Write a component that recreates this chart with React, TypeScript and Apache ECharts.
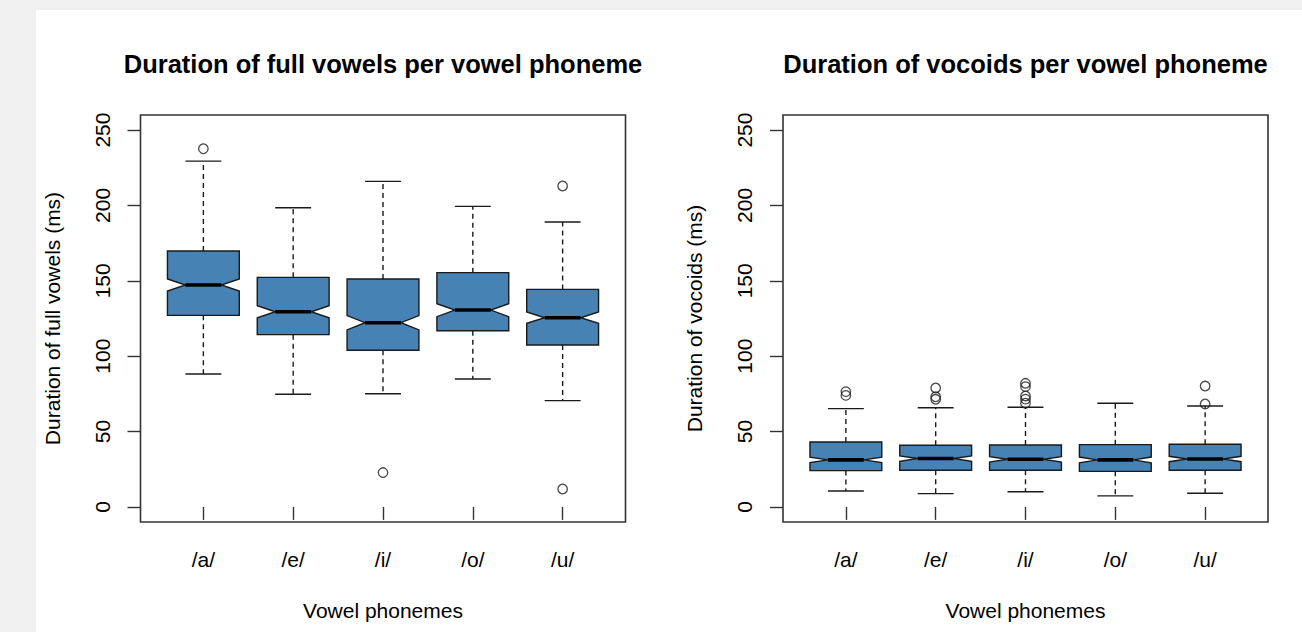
import React, { useEffect, useRef } from "react";
import * as echarts from "echarts";

const phonemes = ["/a/", "/e/", "/i/", "/o/", "/u/"];
const yTicks = [0, 50, 100, 150, 200, 250];

// Full vowels
const fullMin = [88.2, 74.7, 75.1, 84.9, 70.5];
const fullQ1 = [127.1, 114.3, 103.9, 116.9, 107.4];
const fullNotchLo = [143.2, 125.5, 117.4, 126.2, 121.8];
const fullMedian = [147.2, 129.5, 122.2, 130.6, 125.5];
const fullNotchHi = [151.2, 133.5, 126.9, 134.8, 129.3];
const fullQ3 = [169.8, 152.3, 151.2, 155.4, 144.3];
const fullMax = [229.4, 198.5, 216.0, 199.4, 189.0];
const fullOutliers = [[237.6], [], [22.8], [], [212.9, 11.9]];

// Vocoids
const vocMin = [10.6, 8.8, 10.1, 7.3, 9.1];
const vocQ1 = [24.1, 24.3, 24.3, 23.6, 24.3];
const vocNotchLo = [29.4, 30.3, 29.8, 29.3, 30.0];
const vocMedian = [31.2, 32.1, 31.6, 31.2, 31.8];
const vocNotchHi = [33.0, 33.9, 33.4, 33.1, 33.6];
const vocQ3 = [43.1, 40.9, 41.1, 41.3, 41.6];
const vocMax = [65.2, 65.8, 66.1, 68.8, 67.0];
const vocOutliers = [[76.5, 74.0], [78.9, 73.1, 71.4], [82.0, 79.8, 73.6, 71.5, 68.8], [], [80.2, 68.3]];

const FONT = '"Liberation Sans", Arial, Helvetica, sans-serif';
const FILL = "#4682B4";
const INK = "#1a1a1a";

function boxData(mn, q1, nlo, med, nhi, q3, mx) {
  return phonemes.map((_, i) => [i + 1, mn[i], q1[i], nlo[i], med[i], nhi[i], q3[i], mx[i]]);
}
function outlierData(outs) {
  const r = [];
  outs.forEach((list, i) => list.forEach((v) => r.push([i + 1, v])));
  return r;
}

function renderBox(params, api) {
  const x = api.value(0);
  const y = (v) => api.coord([x, v])[1];
  const cx = api.coord([x, api.value(4)])[0];
  const hw = api.size([0.8, 0])[0] / 2;
  const mn = y(api.value(1));
  const q1 = y(api.value(2));
  const nlo = y(api.value(3));
  const med = y(api.value(4));
  const nhi = y(api.value(5));
  const q3 = y(api.value(6));
  const mx = y(api.value(7));
  const dash = { stroke: INK, lineWidth: 1.4, lineDash: [5, 4] };
  const solid = { stroke: INK, lineWidth: 1.4 };
  return {
    type: "group",
    children: [
      { type: "line", shape: { x1: cx, y1: q3, x2: cx, y2: mx }, style: dash },
      { type: "line", shape: { x1: cx, y1: q1, x2: cx, y2: mn }, style: dash },
      { type: "line", shape: { x1: cx - hw / 2, y1: mx, x2: cx + hw / 2, y2: mx }, style: solid },
      { type: "line", shape: { x1: cx - hw / 2, y1: mn, x2: cx + hw / 2, y2: mn }, style: solid },
      {
        type: "polygon",
        shape: {
          points: [
            [cx - hw, q1], [cx - hw, nlo], [cx - hw / 2, med], [cx - hw, nhi], [cx - hw, q3],
            [cx + hw, q3], [cx + hw, nhi], [cx + hw / 2, med], [cx + hw, nlo], [cx + hw, q1],
          ],
        },
        style: { fill: FILL, stroke: INK, lineWidth: 1.4 },
      },
      { type: "line", shape: { x1: cx - hw / 2, y1: med, x2: cx + hw / 2, y2: med }, style: { stroke: "#000", lineWidth: 3.6 } },
    ],
  };
}

function xAxisFor(gridIndex) {
  return {
    gridIndex,
    type: "value",
    min: 0.3,
    max: 5.7,
    axisLine: { show: false },
    splitLine: { show: false },
    axisTick: { show: true, customValues: [1, 2, 3, 4, 5], length: 13, lineStyle: { color: "#333", width: 1.4 } },
    axisLabel: {
      customValues: [1, 2, 3, 4, 5],
      formatter: (v) => phonemes[Math.round(v) - 1],
      margin: 27,
      fontSize: 21,
      color: "#000",
      fontFamily: FONT,
    },
    name: "Vowel phonemes",
    nameLocation: "middle",
    nameGap: 78,
    nameTextStyle: { fontSize: 21, color: "#000", fontFamily: FONT },
  };
}

function yAxisFor(gridIndex, name) {
  return {
    gridIndex,
    type: "value",
    min: -10,
    max: 260,
    axisLine: { show: false },
    splitLine: { show: false },
    axisTick: { show: true, customValues: yTicks, length: 13, lineStyle: { color: "#333", width: 1.4 } },
    axisLabel: {
      customValues: yTicks,
      rotate: 90,
      margin: 28,
      fontSize: 21,
      color: "#000",
      fontFamily: FONT,
    },
    name,
    nameLocation: "middle",
    nameGap: 78,
    nameTextStyle: { fontSize: 21, color: "#000", fontFamily: FONT },
  };
}

export default function App() {
  const ref = useRef(null);
  useEffect(() => {
    const chart = echarts.init(ref.current, null, { renderer: "svg" });
    const gridStyle = { show: true, borderColor: "#333", borderWidth: 1.6, backgroundColor: "transparent" };
    chart.setOption({
      animation: false,
      backgroundColor: "#f0f0f0",
      graphic: [
        { type: "rect", z: -100, silent: true, shape: { x: 36, y: 10, width: 1266, height: 622 }, style: { fill: "#ffffff" } },
        {
          type: "text", x: 383, y: 64, silent: true,
          style: { text: "Duration of full vowels per vowel phoneme", fontSize: 25.5, fontWeight: "bold", fontFamily: FONT, fill: "#000", align: "center", verticalAlign: "middle" },
        },
        {
          type: "text", x: 1025.5, y: 64, silent: true,
          style: { text: "Duration of vocoids per vowel phoneme", fontSize: 25.5, fontWeight: "bold", fontFamily: FONT, fill: "#000", align: "center", verticalAlign: "middle" },
        },
      ],
      grid: [
        { left: 140.5, top: 115, width: 485, height: 407, ...gridStyle },
        { left: 783, top: 115, width: 485, height: 407, ...gridStyle },
      ],
      xAxis: [xAxisFor(0), xAxisFor(1)],
      yAxis: [yAxisFor(0, "Duration of full vowels (ms)"), yAxisFor(1, "Duration of vocoids (ms)")],
      series: [
        {
          type: "custom", xAxisIndex: 0, yAxisIndex: 0, renderItem: renderBox,
          encode: { x: 0, y: [1, 2, 3, 4, 5, 6, 7] },
          data: boxData(fullMin, fullQ1, fullNotchLo, fullMedian, fullNotchHi, fullQ3, fullMax),
        },
        {
          type: "custom", xAxisIndex: 1, yAxisIndex: 1, renderItem: renderBox,
          encode: { x: 0, y: [1, 2, 3, 4, 5, 6, 7] },
          data: boxData(vocMin, vocQ1, vocNotchLo, vocMedian, vocNotchHi, vocQ3, vocMax),
        },
        {
          type: "scatter", xAxisIndex: 0, yAxisIndex: 0, symbol: "circle", symbolSize: 9.5,
          itemStyle: { color: "rgba(0,0,0,0)", borderColor: INK, borderWidth: 1.3 },
          data: outlierData(fullOutliers),
        },
        {
          type: "scatter", xAxisIndex: 1, yAxisIndex: 1, symbol: "circle", symbolSize: 9.5,
          itemStyle: { color: "rgba(0,0,0,0)", borderColor: INK, borderWidth: 1.3 },
          data: outlierData(vocOutliers),
        },
      ],
    });
    return () => chart.dispose();
  }, []);
  return <div ref={ref} style={{ position: "fixed", left: 0, top: 0, width: 1302, height: 632 }} />;
}
